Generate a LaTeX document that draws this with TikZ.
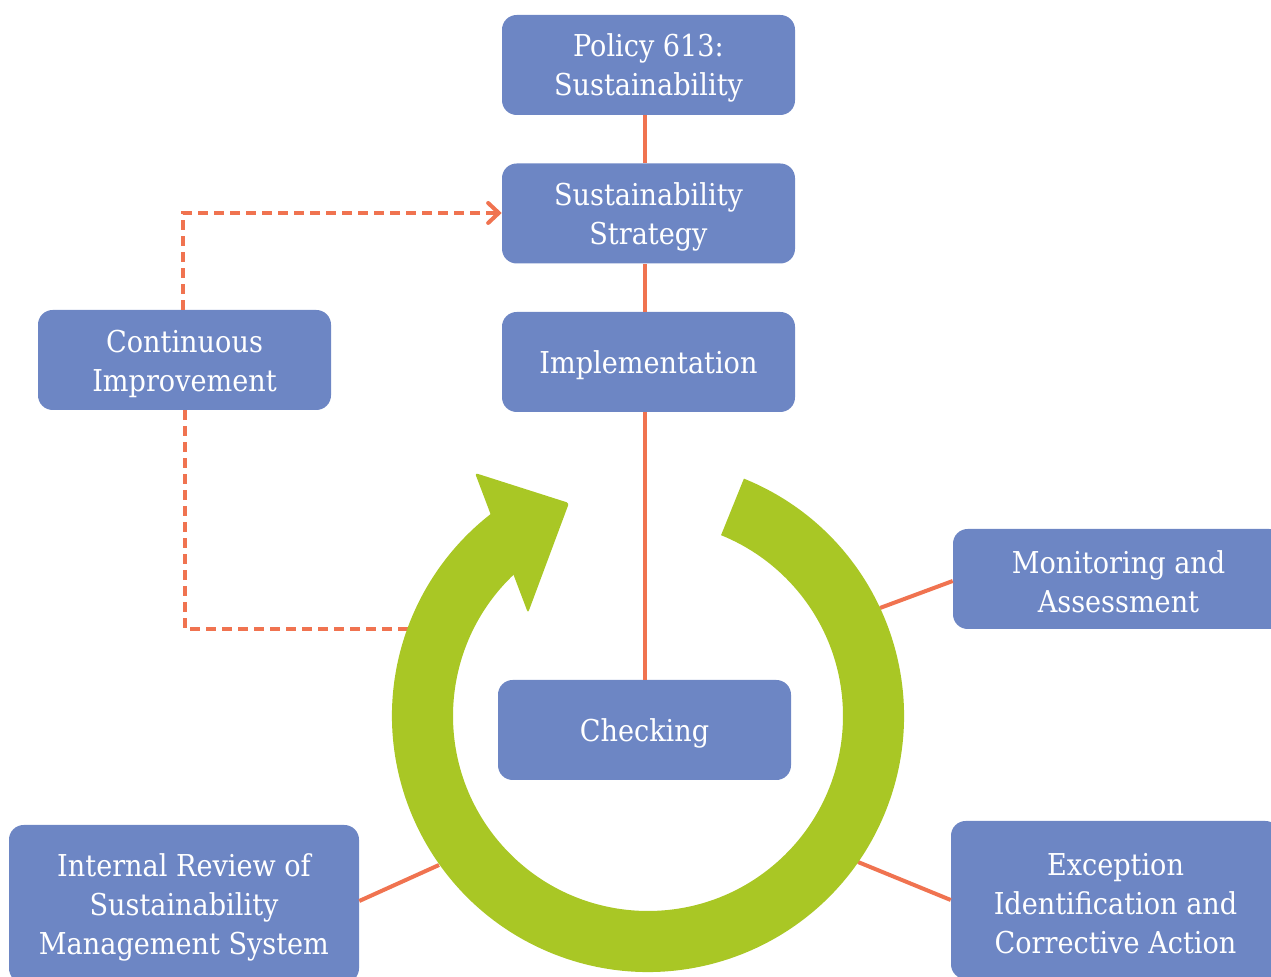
\documentclass[tikz,border=0pt]{standalone}
\usepackage{fontspec}
\setmainfont{DejaVu Serif Condensed}
\usetikzlibrary{arrows.meta,calc}
\definecolor{boxblue}{RGB}{109,134,196}
\definecolor{ringgreen}{RGB}{169,199,37}
\definecolor{linkorange}{RGB}{240,115,80}
\newcommand{\topstrut}{\rule{0pt}{22pt}}
\begin{document}
\begin{tikzpicture}[x=0.75pt,y=0.75pt,
  box/.style={fill=boxblue,draw=none,rounded corners=11pt,text=white,align=center,
    inner sep=0pt,font=\fontsize{22.6pt}{29.25pt}\selectfont},
  link/.style={draw=linkorange,line width=3pt},
  dlink/.style={draw=linkorange,line width=3pt,dash pattern=on 7.5pt off 4.5pt}]
\useasboundingbox (0,0) rectangle (1271,977);
\begin{scope}
\clip (0,0) rectangle (1271,977);
% nodes
\node[box,minimum width=219.75pt,minimum height=75pt] (pol) at (648.5,912) {\topstrut Policy 613:\\Sustainability};
\node[box,minimum width=219.75pt,minimum height=75pt] (str) at (648.5,763.5) {\topstrut Sustainability\\Strategy};
\node[box,minimum width=219.75pt,minimum height=75pt] (imp) at (648.5,615) {\topstrut Implementation};
\node[box,minimum width=219.75pt,minimum height=75pt] (ci) at (184.5,617) {\topstrut Continuous\\Improvement};
\node[box,minimum width=219.75pt,minimum height=75pt] (chk) at (644.5,247) {\topstrut Checking};
\node[box,minimum width=248.25pt,minimum height=75pt] (mon) at (1118.5,398) {\topstrut Monitoring and\\Assessment};
\node[box,minimum width=246.75pt,minimum height=118.5pt] (exc) at (1115.5,77) {\topstrut Exception\\Identification and\\Corrective Action};
\node[box,minimum width=262.5pt,minimum height=118.5pt] (irv) at (184,73) {\topstrut Internal Review of\\Sustainability\\Management System};
% ring anchor points
\coordinate (C) at (648,261);
\coordinate (monr) at (880,369);
\coordinate (excr) at (858,115);
\coordinate (irvr) at (439,112);
\coordinate (cir) at (420,348);
\coordinate (cicorner) at (185,348);
\coordinate (citop) at (183,764);
% connectors
\draw[link] (chk.north |- pol.south) -- (chk.north |- str.north);
\draw[link] (chk.north |- str.south) -- (chk.north |- imp.north);
\draw[link] (chk.north |- imp.south) -- (chk.north);
\draw[link] (monr) -- ($(mon.west)+(0,-2)$);
\draw[link] (excr) -- (exc.west);
\draw[link] (irvr) -- ($(irv.east)+(0,3)$);
\draw[dlink,-{Straight Barb[length=8pt,width=15pt,line cap=round]}] (ci.north -| citop) -- (citop) -- (citop -| str.west);
\draw[dlink] (ci.south -| cicorner) -- (cicorner) -- (cir);
% ring
\fill[ringgreen] ($(C)+(68:256)$) arc[start angle=68,end angle=-233,radius=256]
  -- ($(C)+(-228.5:195)$) arc[start angle=-228.5,end angle=68,radius=195] -- cycle;
\fill[ringgreen,rounded corners=2pt] (475,504) -- (569,474) -- (528,364) -- cycle;
\end{scope}
\end{tikzpicture}
\end{document}
